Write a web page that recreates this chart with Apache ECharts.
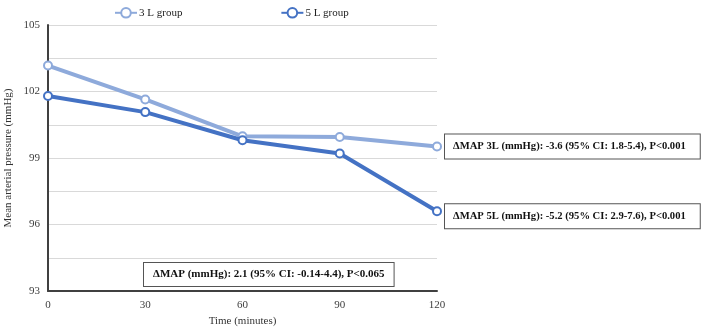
<!DOCTYPE html>
<html>
<head>
<meta charset="utf-8">
<script src="https://cdn.jsdelivr.net/npm/echarts@6/dist/echarts.min.js"></script>
<style>
  html, body { margin: 0; padding: 0; background: #fff; }
  #chart { width: 709px; height: 328px; }
</style>
</head>
<body>
<div id="chart"></div>
<script>
// 时间点（分钟）
var timePoints = ['0', '30', '60', '90', '120'];
// 两组的平均动脉压
var group3L = [103.17, 101.64, 99.98, 99.95, 99.52];
var group5L = [101.8, 101.07, 99.8, 99.2, 96.6];
var seriesNames = ['3 L group', '5 L group'];
// 注释文字
var note3L = 'ΔMAP 3L (mmHg): -3.6 (95% CI: 1.8-5.4), P<0.001';
var note5L = 'ΔMAP 5L (mmHg): -5.2 (95% CI: 2.9-7.6), P<0.001';
var noteDiff = 'ΔMAP (mmHg): 2.1 (95% CI: -0.14-4.4), P<0.065';

var serif = 'Liberation Serif';
var boxLabel = function (text) {
  return {
    show: true,
    formatter: text,
    distance: 8,
    fontFamily: serif,
    fontWeight: 'bold',
    fontSize: 10.6,
    color: '#111',
    backgroundColor: '#fff',
    borderColor: '#555',
    borderWidth: 1,
    padding: [7, 14, 6, 8]
  };
};

var option = {
  animation: false,
  grid: { left: 48, right: 272, top: 25, bottom: 37, outerBoundsMode: 'none', containLabel: false },
  legend: {
    data: seriesNames,
    left: 109,
    top: 2,
    itemWidth: 22,
    itemHeight: 12,
    itemGap: 98,
    textStyle: { fontFamily: serif, fontSize: 11, color: '#222', padding: [0, 0, 0, -3] }
  },
  xAxis: {
    type: 'category',
    boundaryGap: false,
    data: timePoints,
    name: 'Time (minutes)',
    nameLocation: 'middle',
    nameGap: 25,
    nameTextStyle: { fontFamily: serif, fontSize: 11, color: '#333' },
    axisLine: { lineStyle: { color: '#404040', width: 2 } },
    axisTick: { show: false },
    axisLabel: { fontFamily: serif, fontSize: 11, color: '#404040', margin: 9 }
  },
  yAxis: {
    type: 'value',
    min: 93,
    max: 105,
    interval: 1.5,
    name: 'Mean arterial pressure (mmHg)',
    nameLocation: 'middle',
    nameGap: 34,
    nameMoveOverlap: false,
    nameTextStyle: { fontFamily: serif, fontSize: 11, color: '#333' },
    axisLine: { show: true, lineStyle: { color: '#404040', width: 2 } },
    axisTick: { show: false },
    axisLabel: {
      fontFamily: serif, fontSize: 11, color: '#404040', margin: 8,
      formatter: function (v) {
        return (Math.round((v - 93) * 10) % 30 === 0) ? String(v) : '';
      }
    },
    splitLine: { lineStyle: { color: '#d9d9d9', width: 1 } }
  },
  graphic: [{
    type: 'text',
    left: 143,
    top: 262,
    style: {
      text: noteDiff,
      fontFamily: serif,
      fontWeight: 'bold',
      fontSize: 11,
      fill: '#111',
      backgroundColor: '#fff',
      borderColor: '#555',
      borderWidth: 1,
      padding: [6, 9, 6, 9]
    }
  }],
  series: [
    {
      name: seriesNames[0],
      type: 'line',
      data: group3L,
      symbol: 'emptyCircle',
      symbolSize: 8,
      color: '#8eaadb',
      lineStyle: { width: 4 },
      itemStyle: { borderWidth: 4 },
      endLabel: boxLabel(note3L),
      z: 2
    },
    {
      name: seriesNames[1],
      type: 'line',
      data: group5L,
      symbol: 'emptyCircle',
      symbolSize: 8,
      color: '#4472c4',
      lineStyle: { width: 4 },
      itemStyle: { borderWidth: 4 },
      endLabel: Object.assign(boxLabel(note5L), { offset: [0, 5] }),
      z: 3
    }
  ]
};

var chart = echarts.init(document.getElementById('chart'));
chart.setOption(option);
</script>
</body>
</html>
